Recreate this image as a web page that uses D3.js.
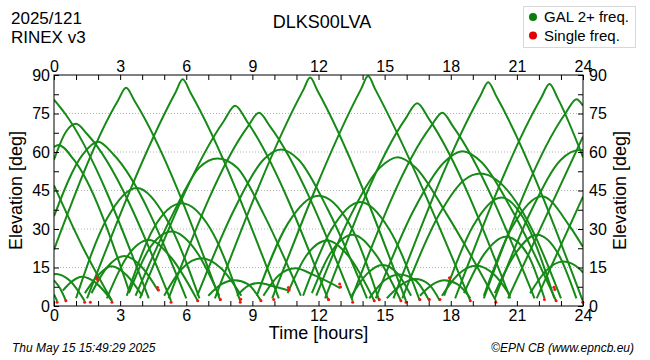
<!DOCTYPE html>
<html>
<head>
<meta charset="utf-8">
<script src="https://cdn.jsdelivr.net/npm/d3@7"></script>
<style>
  html, body { margin: 0; padding: 0; background: #fff; }
  svg { display: block; font-family: "Liberation Sans", Arial, sans-serif; }
</style>
</head>
<body>
<svg id="chart" width="650" height="360"></svg>
<script>
// ---------------- data ----------------
const stationName = "DLKS00LVA";
const headerLines = ["2025/121", "RINEX v3"];
const footerLeft = "Thu May 15 15:49:29 2025";
const footerRight = "\u00A9EPN CB (www.epncb.eu)";
const legendLabels = ["GAL 2+ freq.", "Single freq."];

const hourTicks = d3.range(0, 25, 1);          // minor ticks every hour
const hourLabels = [0, 3, 6, 9, 12, 15, 18, 21, 24];
const elevTicks = d3.range(0, 90.1, 7.5);
const elevLabels = [0, 15, 30, 45, 60, 75, 90];
const gridLevels = [15, 30, 45, 60, 75];

// satellite passes: [time (h), elevation (deg)]
const arcs = [
  [[0,80.4],[0.5,75],[4.3,3]],
  [[0,57],[0.55,68],[1.0,71],[1.5,67],[5.31,2]],
  [[0,62],[0.2,62.7],[0.9,57],[3.4,6]],
  [[0,35],[1.3,59],[2.0,64],[2.7,59],[6.0,3]],
  [[0,47],[1.3,23],[2.63,2]],
  [[0,10],[0.3,6.5],[0.54,2]],
  [[0,4.5],[0.14,2]],
  [[0,12.4],[0.1,12.5],[0.7,10],[1.39,2]],
  [[0,22],[2.9,80],[3.27,85],[3.65,80],[7.55,2]],
  [[0.4,6],[0.8,9.5],[1.27,11.4],[1.9,9],[2.63,2]],
  [[1.0,3],[2.4,34],[3.75,46],[5.1,34],[6.6,3]],
  [[1.4,5],[2.0,12],[2.6,15.5],[3.3,12],[4.0,4]],
  [[1.5,3],[5.5,83],[5.84,88.3],[6.2,83],[10.2,3]],
  [[1.7,5],[2.4,15],[3.2,19.5],[4.0,15],[4.72,6]],
  [[2.4,3],[3.3,19],[4.3,25.7],[5.3,19],[6.52,2]],
  [[3.3,4],[4.5,30],[5.8,40],[7.1,30],[8.45,2]],
  [[3.4,5],[4.3,22],[5.35,29],[6.4,22],[7.5,4]],
  [[3.7,4],[5.4,36],[6.6,54],[7.42,57.5],[8.3,54],[9.5,36],[11.2,4]],
  [[3.9,3],[7.7,72],[8.22,78],[8.75,72],[12.46,2]],
  [[5.0,4],[5.8,14.5],[6.7,18.6],[7.6,14.5],[8.5,4]],
  [[5.2,3],[8.8,70],[9.3,75.3],[9.8,70],[13.55,2]],
  [[6.5,4],[8.2,38],[9.5,57],[10.3,61],[11.1,57],[12.4,38],[14.2,3]],
  [[7.0,4],[7.6,8.5],[8.2,10],[8.8,8.5],[9.39,2]],
  [[7.3,3],[11.3,84],[11.62,89],[11.95,84],[15.97,2]],
  [[8.3,4],[8.8,7.8],[9.3,9],[9.9,7.8],[10.65,6]],
  [[9.2,4],[10.6,32],[12.0,43],[13.4,32],[14.76,2]],
  [[9.5,4],[10.2,12],[10.95,14.7],[11.8,12],[12.98,7]],
  [[9.9,3],[13.93,84.5],[14.25,89.6],[14.57,84.5],[18.89,2]],
  [[10.6,5],[11.4,19],[12.4,25.5],[13.4,19],[14.53,2]],
  [[11.3,4],[12.6,30],[13.9,40.5],[15.2,30],[16.6,2]],
  [[11.7,5],[12.5,20],[13.55,27.8],[14.6,20],[15.74,2]],
  [[11.9,4],[13.5,36],[14.8,54],[15.6,58],[16.4,54],[17.8,36],[20.05,2]],
  [[12.3,3],[15.95,73],[16.48,79],[17.0,73],[20.7,3]],
  [[13.5,3],[17.1,70],[17.62,75.3],[18.1,70],[21.8,3]],
  [[13.5,4],[14.2,12.5],[14.9,16],[15.6,12.5],[16.2,4]],
  [[14.3,3],[15.0,10],[15.67,12.3],[16.4,10],[17.03,2]],
  [[14.6,3],[16.3,37],[17.7,56],[18.53,60.3],[19.4,56],[20.8,37],[22.78,2]],
  [[15.1,3],[15.8,8.5],[16.4,10.5],[17.0,8.5],[17.51,2]],
  [[15.4,3],[19.35,82],[19.7,87.2],[20.05,82],[23.99,2]],
  [[15.8,3],[17.5,36],[18.6,49],[19.35,51.6],[20.1,49],[21.3,36],[23.0,3]],
  [[16.6,4],[17.2,8.5],[17.71,10],[18.3,8.5],[18.89,3]],
  [[17.6,4],[18.3,12],[19.15,15.7],[20.0,12],[20.7,4]],
  [[17.7,4],[19.0,31],[20.3,42.3],[21.5,31],[22.7,3]],
  [[18.2,3],[22.1,81],[22.48,86.5],[22.85,81],[24,58]],
  [[18.6,5],[19.5,20],[20.5,27],[21.5,20],[22.25,3]],
  [[19.5,3],[23.2,75],[23.71,80.6],[24,78]],
  [[19.5,4],[20.8,31],[22.13,42.8],[23.4,31],[24,23]],
  [[20.0,3],[21.7,38],[23.0,57],[23.85,60.8],[24,60.7]],
  [[20.0,5],[20.9,20],[21.9,27.8],[22.9,20],[23.7,3]],
  [[20.6,3],[24,66]],
  [[21.9,3],[24,42.6]],
  [[21.6,5],[22.3,13.5],[23.1,17.3],[23.9,14],[24,13]]
];

// single-frequency observations (red)
const singleFreq = [
  [0.14,1.5],[0.54,2],[1.39,1.5],[1.65,1.5],[1.94,11],[1.97,10.3],[2.63,1.5],
  [4.70,7.2],[4.74,6.2],[5.31,1.5],[6.52,2],[7.55,2.5],[8.45,1.5],[8.47,2.6],
  [9.39,2],[9.97,2.5],[10.63,7.2],[10.67,6.2],[12.46,2.5],[12.96,8.6],[13.0,7.4],
  [13.55,1.5],[14.53,2],[14.76,2.5],[15.74,2],[15.97,1.5],[16.6,2.5],[17.03,2.5],
  [17.51,2.5],[17.94,11],[18.89,2],[20.05,1.5],[22.25,2.5],[22.68,7.3],[22.72,6.4],
  [22.78,2],[23.99,1.5]
];

// ---------------- drawing ----------------
const svg = d3.select("#chart");
const W = 650, H = 360;
const plot = {left: 54, right: 583, top: 75, bottom: 306};
const FONT = '"Liberation Sans", Arial, sans-serif';
const GREEN = "#168a16";
const RED = "#ff1010";

const x = d3.scaleLinear().domain([0, 24]).range([plot.left, plot.right]);
const y = d3.scaleLinear().domain([0, 90]).range([plot.bottom, plot.top]);

svg.append("rect").attr("width", W).attr("height", H).attr("fill", "#fff");

// grid
svg.append("g").selectAll("line").data(gridLevels).join("line")
  .attr("x1", plot.left).attr("x2", plot.right)
  .attr("y1", d => y(d)).attr("y2", d => y(d))
  .attr("stroke", "#b4b4b4").attr("stroke-width", 1)
  .attr("stroke-dasharray", "1,2");

// arcs
svg.append("clipPath").attr("id", "clip")
  .append("rect").attr("x", plot.left).attr("y", plot.top - 3)
  .attr("width", plot.right - plot.left).attr("height", plot.bottom - plot.top + 3);

const line = d3.line().x(d => x(d[0])).y(d => y(d[1])).curve(d3.curveMonotoneX);
svg.append("g").attr("clip-path", "url(#clip)")
  .selectAll("path").data(arcs).join("path")
  .attr("d", line).attr("fill", "none")
  .attr("stroke", GREEN).attr("stroke-width", 2);

svg.append("g").selectAll("circle").data(singleFreq).join("circle")
  .attr("cx", d => x(d[0])).attr("cy", d => y(d[1]))
  .attr("r", 1.5).attr("fill", RED);

// frame
svg.append("rect").attr("x", plot.left).attr("y", plot.top)
  .attr("width", plot.right - plot.left).attr("height", plot.bottom - plot.top)
  .attr("fill", "none").attr("stroke", "#000").attr("stroke-width", 1);

// axes: ticks (inward)
function styleAxis(g) {
  g.select(".domain").remove();
  g.selectAll("line").attr("stroke", "#000");
  g.selectAll("text").attr("font-family", FONT).attr("font-size", 16).attr("fill", "#000");
}
const tickLen = 5;
svg.append("g").attr("transform", `translate(0,${plot.bottom})`)
  .call(d3.axisBottom(x).tickValues(hourTicks).tickSize(-tickLen).tickFormat(""))
  .call(styleAxis);
svg.append("g").attr("transform", `translate(0,${plot.top})`)
  .call(d3.axisTop(x).tickValues(hourTicks).tickSize(-tickLen).tickFormat(""))
  .call(styleAxis);
svg.append("g").attr("transform", `translate(${plot.left},0)`)
  .call(d3.axisLeft(y).tickValues(elevTicks).tickSize(-tickLen).tickFormat(""))
  .call(styleAxis);
svg.append("g").attr("transform", `translate(${plot.right},0)`)
  .call(d3.axisRight(y).tickValues(elevTicks).tickSize(-tickLen).tickFormat(""))
  .call(styleAxis);

// axes: labels
svg.append("g").attr("transform", `translate(0,${plot.bottom})`)
  .call(d3.axisBottom(x).tickValues(hourLabels).tickSize(0).tickPadding(4).tickFormat(d3.format("d")))
  .call(styleAxis);
svg.append("g").attr("transform", `translate(0,${plot.top})`)
  .call(d3.axisTop(x).tickValues(hourLabels).tickSize(0).tickPadding(3).tickFormat(d3.format("d")))
  .call(styleAxis);
svg.append("g").attr("transform", `translate(${plot.left},0)`)
  .call(d3.axisLeft(y).tickValues(elevLabels).tickSize(0).tickPadding(4).tickFormat(d3.format("d")))
  .call(styleAxis);
svg.append("g").attr("transform", `translate(${plot.right},0)`)
  .call(d3.axisRight(y).tickValues(elevLabels).tickSize(0).tickPadding(6).tickFormat(d3.format("d")))
  .call(styleAxis);

// axis titles
const midY = (plot.top + plot.bottom) / 2;
svg.append("text").attr("transform", `translate(22,${midY}) rotate(-90)`)
  .attr("text-anchor", "middle").attr("font-family", FONT).attr("font-size", 18)
  .text("Elevation [deg]");
svg.append("text").attr("transform", `translate(626,${midY}) rotate(-90)`)
  .attr("text-anchor", "middle").attr("font-family", FONT).attr("font-size", 18)
  .text("Elevation [deg]");
svg.append("text").attr("x", (plot.left + plot.right) / 2).attr("y", 339)
  .attr("text-anchor", "middle").attr("font-family", FONT).attr("font-size", 18)
  .text("Time [hours]");

// header
svg.append("text").attr("x", 322).attr("y", 28).attr("text-anchor", "middle")
  .attr("font-family", FONT).attr("font-size", 18).text(stationName);
svg.selectAll("text.hdr").data(headerLines).join("text").attr("class", "hdr")
  .attr("x", 11).attr("y", (d, i) => 23.5 + i * 19)
  .attr("font-family", FONT).attr("font-size", 17).text(d => d);

// legend
const lg = svg.append("g");
lg.append("rect").attr("x", 523.5).attr("y", 6.5).attr("width", 112).attr("height", 41)
  .attr("fill", "#fff").attr("stroke", "#d8d8d8");
const legendColors = ["#0a7d0a", "#e80000"];
legendLabels.forEach((lab, i) => {
  lg.append("circle").attr("cx", 533).attr("cy", 17 + i * 18.5).attr("r", 4)
    .attr("fill", legendColors[i]);
  lg.append("text").attr("x", 544).attr("y", 22 + i * 18.5)
    .attr("font-family", FONT).attr("font-size", 15).text(lab);
});

// footer
svg.append("text").attr("x", 12).attr("y", 352).attr("font-family", FONT)
  .attr("font-size", 12).attr("font-style", "italic").text(footerLeft);
svg.append("text").attr("x", 634).attr("y", 352).attr("text-anchor", "end")
  .attr("font-family", FONT).attr("font-size", 12).attr("font-style", "italic").text(footerRight);
</script>
</body>
</html>
